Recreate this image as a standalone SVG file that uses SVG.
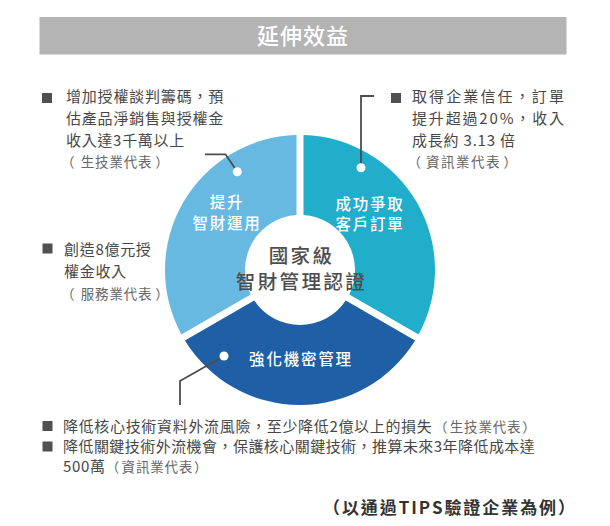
<svg xmlns="http://www.w3.org/2000/svg" width="610" height="526" viewBox="0 0 610 526">
<style>
text{font-family:"Noto Sans CJK TC","Noto Sans CJK SC","Noto Sans",sans-serif;}
.title{font-size:22px;fill:#fff;font-weight:500;letter-spacing:1px;text-anchor:middle;}
.t{font-size:15px;fill:#474747;letter-spacing:0.7px;}
.tr{font-size:15px;fill:#474747;letter-spacing:2px;}
.p{font-size:13.5px;fill:#666;letter-spacing:0.8px;}
.pr{font-size:13.5px;fill:#666;letter-spacing:1.5px;}
.lbl{font-size:15.5px;fill:#fff;font-weight:500;letter-spacing:1.8px;text-anchor:middle;}
.ctr{font-size:19.5px;fill:#4d4d4d;font-weight:500;letter-spacing:2.4px;text-anchor:middle;}
.note{font-size:17px;fill:#333;font-weight:bold;}
.bul{fill:#505050;}
.conn{fill:none;stroke:#4d4d4d;stroke-width:1.8;}
.dot{fill:#fff;}
</style>
<rect width="610" height="526" fill="#fff"/>
<g id="title">
<rect x="39.5" y="17" width="527" height="37.5" fill="#b4b4b4"/>
<text class="title" x="303" y="44">延伸效益</text>
</g>
<g id="sector-ip-use">
<path d="M181.36 334.42 A135 135 0 0 1 296.5 135.05 L296.5 215.11 A55 55 0 0 0 250.71 294.41 Z" fill="#68b9e1"/>
<text class="lbl" x="227" y="207.5">提升</text>
<text class="lbl" x="227" y="229">智財運用</text>
</g>
<g id="sector-orders">
<path d="M303.5 135.05 A135 135 0 0 1 418.64 334.42 L349.29 294.41 A55 55 0 0 0 303.5 215.11 Z" fill="#21aeca"/>
<text class="lbl" x="370" y="209.5">成功爭取</text>
<text class="lbl" x="370" y="229.5">客戶訂單</text>
</g>
<g id="sector-secrets">
<path d="M415.1 340.54 A135 135 0 0 1 184.9 340.54 L254.22 300.48 A55 55 0 0 0 345.78 300.48 Z" fill="#1e5fa6"/>
<text class="lbl" x="301" y="365">強化機密管理</text>
</g>
<g id="center">
<text class="ctr" x="301.5" y="262.5">國家級</text>
<text class="ctr" x="301.5" y="289">智財管理認證</text>
</g>
<g id="connectors">
<polyline class="conn" points="205,154.3 225.5,154.3 237.3,171.7"/>
<polyline class="conn" points="374,96 361,96 361,167.7"/>
<polyline class="conn" points="224,356 180,381 180,405"/>
<circle class="dot" cx="237.3" cy="171.7" r="4.5"/>
<circle class="dot" cx="361" cy="167.7" r="4.5"/>
<circle class="dot" cx="224" cy="356" r="4.5"/>
</g>
<g id="note-top-left">
<rect class="bul" x="42" y="93" width="10" height="10"/>
<text class="t" x="66" y="102" textLength="158" lengthAdjust="spacing">增加授權談判籌碼，預</text>
<text class="t" x="66" y="124" textLength="158" lengthAdjust="spacing">估產品淨銷售與授權金</text>
<text class="t" x="66" y="146">收入達3千萬以上</text>
<text class="p" x="66" y="167"><tspan dx="-5">（</tspan><tspan dx="5.5">生技業代表</tspan><tspan dx="3">）</tspan></text>
</g>
<g id="note-top-right">
<rect class="bul" x="391" y="93" width="10" height="10"/>
<text class="tr" x="412" y="102" textLength="154" lengthAdjust="spacing">取得企業信任，訂單</text>
<text class="tr" x="412" y="124" textLength="154" lengthAdjust="spacing">提升超過20%，收入</text>
<text class="tr" x="412" y="146" textLength="105" lengthAdjust="spacing">成長約 3.13 倍</text>
<text class="pr" x="412" y="167"><tspan dx="-4.5">（</tspan><tspan dx="3.5">資訊業代表</tspan><tspan dx="2.5">）</tspan></text>
</g>
<g id="note-mid-left">
<rect class="bul" x="42.5" y="243.5" width="10" height="10"/>
<text class="t" x="64" y="254.5">創造8億元授</text>
<text class="t" x="64" y="277">權金收入</text>
<text class="p" x="66" y="298.5"><tspan dx="-5">（</tspan><tspan dx="5.5">服務業代表</tspan><tspan dx="3">）</tspan></text>
</g>
<g id="note-bottom">
<rect class="bul" x="42.5" y="421" width="10" height="10"/>
<text class="t" x="63" y="432" textLength="369.5" lengthAdjust="spacing">降低核心技術資料外流風險，至少降低2億以上的損失</text>
<text class="p" x="434" y="432">（<tspan dx="1.5">生技業代表</tspan><tspan dx="1">）</tspan></text>
<rect class="bul" x="42.5" y="441.5" width="10" height="10"/>
<text class="t" x="63" y="452" textLength="472.5" lengthAdjust="spacing">降低關鍵技術外流機會，保護核心關鍵技術，推算未來3年降低成本達</text>
<text class="t" x="63" y="472">500萬<tspan class="p">（</tspan><tspan class="p" dx="1.5">資訊業代表</tspan><tspan class="p" dx="1">）</tspan></text>
</g>
<g id="footnote">
<text class="note" x="323" y="514" textLength="252" lengthAdjust="spacing">（以通過TIPS驗證企業為例）</text>
</g>
</svg>
